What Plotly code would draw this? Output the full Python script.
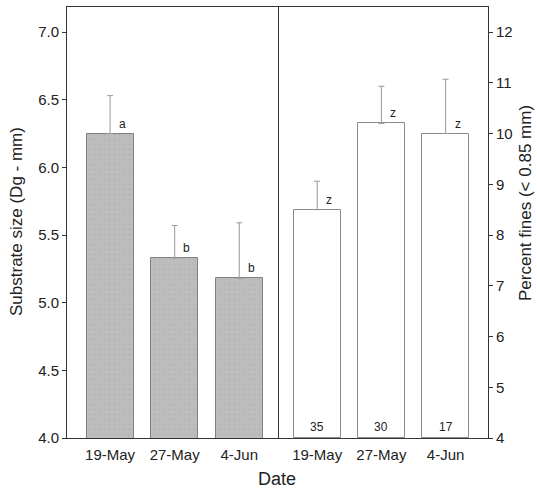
import plotly.graph_objects as go

dates = ["19-May", "27-May", "4-Jun"]
substrate = [6.25, 5.33, 5.18]
substrate_err = [0.28, 0.24, 0.41]
substrate_letters = ["a", "b", "b"]
fines = [8.5, 10.2, 10.0]
fines_err = [0.56, 0.73, 1.07]
fines_letters = ["z", "z", "z"]
counts = ["35", "30", "17"]
left_ticks = [4.0, 4.5, 5.0, 5.5, 6.0, 6.5, 7.0]
right_ticks = [4, 5, 6, 7, 8, 9, 10, 11, 12]

xpos = list(range(len(dates)))
FONT = "Liberation Sans, Arial, Helvetica, sans-serif"

fig = go.Figure()
fig.add_trace(go.Bar(
    x=xpos, y=substrate, width=0.73, xaxis="x", yaxis="y",
    marker=dict(color="#bcbcbc", line=dict(color="#808080", width=1),
                pattern=dict(shape=".", fgcolor="#aaaaaa", bgcolor="#bdbdbd", size=5, solidity=0.15)),
    error_y=dict(type="data", array=substrate_err, arrayminus=[0]*3, symmetric=False,
                 color="#999", thickness=1, width=3),
    showlegend=False))
fig.add_trace(go.Bar(
    x=xpos, y=[v - 4 for v in fines], base=4, width=0.73, xaxis="x2", yaxis="y2",
    marker=dict(color="white", line=dict(color="#8a8a8a", width=1)),
    error_y=dict(type="data", array=fines_err, arrayminus=[0]*3, symmetric=False,
                 color="#999", thickness=1, width=3),
    showlegend=False))

ann = []
for i in xpos:
    ann.append(dict(x=i, y=substrate[i], xref="x", yref="y", text=substrate_letters[i],
                    showarrow=False, xshift=12, yshift=10, font=dict(size=12, color="#222")))
    ann.append(dict(x=i, y=fines[i], xref="x2", yref="y2", text=fines_letters[i],
                    showarrow=False, xshift=12, yshift=10, font=dict(size=12, color="#222")))
    ann.append(dict(x=i, y=4, xref="x2", yref="y2", text=counts[i],
                    showarrow=False, yshift=11, font=dict(size=12, color="#222")))
ann.append(dict(x=16, y=222, xref="paper", yref="paper", text="Substrate size (Dg - mm)",
                textangle=-90, showarrow=False, xanchor="center", yanchor="middle",
                font=dict(size=17, color="#222")))
ann.append(dict(x=525, y=203, xref="paper", yref="paper", text="Percent fines (< 0.85 mm)",
                textangle=-90, showarrow=False, xanchor="center", yanchor="middle",
                font=dict(size=17, color="#222")))
ann.append(dict(x=277, y=479, xref="paper", yref="paper", text="Date",
                showarrow=False, xanchor="center", yanchor="middle",
                font=dict(size=18, color="#222")))
# convert pixel positions to paper coordinates
L, R, T, B = 67, 49, 7, 52
W, H = 537, 490
pw, ph = W - L - R, H - T - B
for a in ann:
    if a["xref"] == "paper":
        a["x"] = (a["x"] - L) / pw
        a["y"] = (H - B - a["y"]) / ph

split = (278 - L) / pw
axis_common = dict(showgrid=False, zeroline=False, showline=True, linecolor="#333", linewidth=1,
                   tickfont=dict(size=15, color="#222", family=FONT))
fig.update_layout(
    width=W, height=H, margin=dict(l=L, r=R, t=T, b=B),
    paper_bgcolor="white", plot_bgcolor="white",
    font=dict(family=FONT, color="#222"),
    annotations=ann, bargap=0,
    xaxis=dict(domain=[0, split], range=[-0.667, 2.6], tickvals=xpos, ticktext=dates,
               mirror=True, ticks="", ticklabelstandoff=3, **axis_common),
    yaxis=dict(range=[4.0, 7.185], tickvals=left_ticks, ticktext=[f"{v:.1f}" for v in left_ticks],
               ticks="outside", ticklen=4, tickcolor="#333", anchor="x", mirror=True, **axis_common),
    xaxis2=dict(domain=[split, 1], range=[-0.61, 2.66], tickvals=xpos, ticktext=dates,
                mirror=True, ticks="", anchor="y2", ticklabelstandoff=3, **axis_common),
    yaxis2=dict(range=[4, 12.493], tickvals=right_ticks, side="right", anchor="x2",
                ticks="outside", ticklen=4, tickcolor="#333", **axis_common),
)
fig.write_html("out.html", config={"displayModeBar": False},
               post_script="document.body.style.margin='0';")
